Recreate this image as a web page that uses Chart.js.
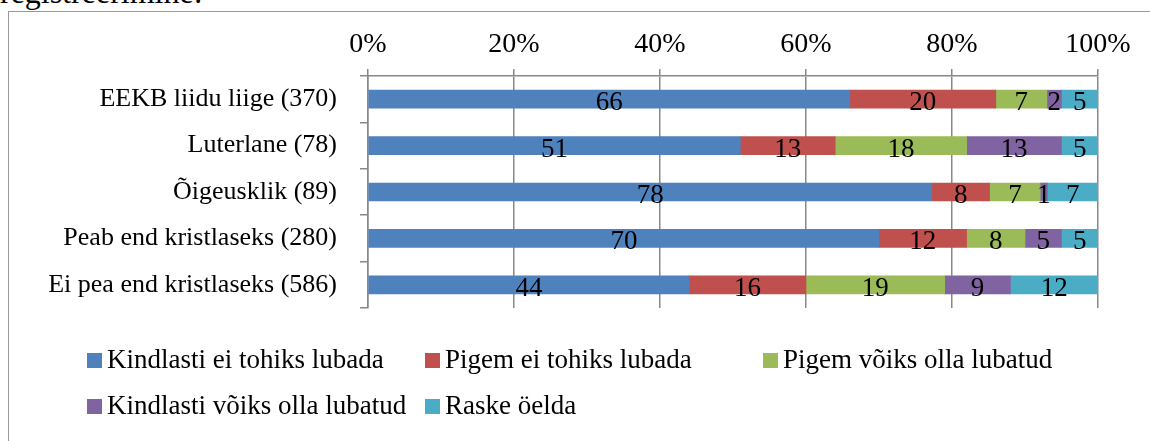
<!DOCTYPE html>
<html>
<head>
<meta charset="utf-8">
<script src="https://cdn.jsdelivr.net/npm/chart.js@4.4.1/dist/chart.umd.min.js"></script>
<style>
  html, body { margin: 0; padding: 0; background: #fff; overflow: hidden; }
  #wrap { position: relative; width: 1150px; height: 441px; }
  #head { position: absolute; left: 0; top: -24px; font: 32px "Liberation Serif", serif; color: #000; white-space: nowrap; line-height: 32px; }
  #frame { position: absolute; left: 8px; top: 11px; width: 1160px; height: 440px; border-left: 1px solid #999; border-top: 1px solid #999; }
  canvas { position: absolute; left: 0; top: 0; }
</style>
</head>
<body>
<div id="wrap">
  <div id="head">registreerimine:</div>
  <div id="frame"></div>
  <canvas id="c" width="1150" height="441"></canvas>
</div>
<script>
// ---- data ----
const categories = ['EEKB liidu liige (370)', 'Luterlane (78)', 'Õigeusklik (89)', 'Peab end kristlaseks (280)', 'Ei pea end kristlaseks (586)'];
const seriesNames = ['Kindlasti ei tohiks lubada', 'Pigem ei tohiks lubada', 'Pigem võiks olla lubatud', 'Kindlasti võiks olla lubatud', 'Raske öelda'];
const kindlastiEi = [66, 51, 78, 70, 44];
const pigemEi = [20, 13, 8, 12, 16];
const pigemVoiks = [7, 18, 7, 8, 19];
const kindlastiVoiks = [2, 13, 1, 5, 9];
const raskeOelda = [5, 5, 7, 5, 12];
const tickValues = [0, 20, 40, 60, 80, 100];
const seriesColors = ['#4F81BD', '#C0504D', '#9BBB59', '#8064A2', '#4BACC6'];

const series = [kindlastiEi, pigemEi, pigemVoiks, kindlastiVoiks, raskeOelda];
const rowSums = categories.map((_, i) => series.reduce((s, arr) => s + arr[i], 0));

const FONT = '"Liberation Serif", "Times New Roman", serif';

const valueLabels = {
  id: 'valueLabels',
  afterDatasetsDraw(chart) {
    const ctx = chart.ctx;
    ctx.save();
    ctx.font = '27px ' + FONT;
    ctx.fillStyle = '#000';
    ctx.textAlign = 'center';
    ctx.textBaseline = 'alphabetic';
    chart.data.datasets.forEach((ds, di) => {
      const meta = chart.getDatasetMeta(di);
      meta.data.forEach((el, i) => {
        const cx = (el.x + el.base) / 2;
        ctx.fillText(String(ds.raw[i]), cx, el.y + 11);
      });
    });
    ctx.restore();
  }
};

const columnLegend = {
  id: 'columnLegend',
  afterDraw(chart) {
    const ctx = chart.ctx;
    const colX = [87, 425, 763];
    const rowBase = [368, 414];
    ctx.save();
    ctx.font = '27px ' + FONT;
    ctx.textAlign = 'left';
    ctx.textBaseline = 'alphabetic';
    chart.data.datasets.forEach((ds, i) => {
      const x = colX[i % 3];
      const b = rowBase[Math.floor(i / 3)];
      ctx.fillStyle = ds.backgroundColor;
      ctx.fillRect(x, b - 15, 15, 15);
      ctx.fillStyle = '#000';
      ctx.fillText(ds.label, x + 20, b);
    });
    ctx.restore();
  }
};

new Chart(document.getElementById('c'), {
  type: 'bar',
  data: {
    labels: categories,
    datasets: series.map((arr, k) => ({
      label: seriesNames[k],
      raw: arr,
      data: arr.map((v, i) => v / rowSums[i] * 100),
      backgroundColor: seriesColors[k],
      borderWidth: 0,
      barThickness: 18
    }))
  },
  options: {
    indexAxis: 'y',
    responsive: false,
    animation: false,
    devicePixelRatio: 1,
    layout: { padding: { left: 0, top: 0, right: 52, bottom: 133 } },
    plugins: { legend: { display: false }, tooltip: { enabled: false } },
    scales: {
      x: {
        position: 'top',
        stacked: true,
        min: 0,
        max: 100,
        afterBuildTicks(scale) { scale.ticks = tickValues.map(v => ({ value: v })); },
        afterFit(scale) { scale.height = 76; },
        ticks: {
          callback: v => v + '%',
          font: { family: FONT, size: 28 },
          color: '#000',
          padding: 8,
          maxRotation: 0
        },
        grid: { color: '#888', lineWidth: 1.5, tickLength: 7, drawOnChartArea: true },
        border: { display: true, color: '#888', width: 1.5 }
      },
      y: {
        stacked: true,
        afterFit(scale) { scale.width = 368; },
        ticks: {
          font: { family: FONT, size: 26 },
          color: '#000',
          padding: 23
        },
        grid: { color: '#888', lineWidth: 1.5, tickLength: 8, drawOnChartArea: false, offset: true },
        border: { display: true, color: '#888', width: 1.5 }
      }
    }
  },
  plugins: [valueLabels, columnLegend]
});
</script>
</body>
</html>
